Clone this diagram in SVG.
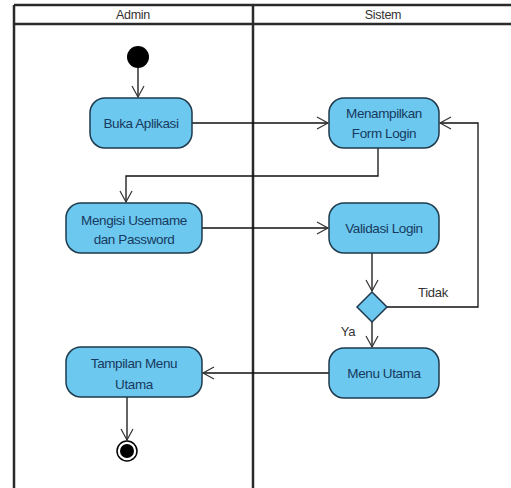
<svg xmlns="http://www.w3.org/2000/svg" width="511" height="488" viewBox="0 0 511 488">
<style>
.frame{stroke:#2a2a2a;stroke-width:2.5;fill:none}
.hdr{font-family:"Liberation Sans",Arial,sans-serif;font-size:12.5px;fill:#333;text-anchor:middle;letter-spacing:-0.3px}
.act{fill:#6cc8ef;stroke:#1e3a4c;stroke-width:1.5}
.lbl{font-family:"Liberation Sans",Arial,sans-serif;font-size:13.5px;fill:#173a5e;text-anchor:middle;letter-spacing:-0.4px}
.edge{stroke:#111;stroke-width:1.3;fill:none}
.guard{font-family:"Liberation Sans",Arial,sans-serif;font-size:13px;fill:#333;text-anchor:middle;letter-spacing:-0.3px}
</style>
<defs>
<marker id="arr" markerWidth="14" markerHeight="14" refX="12" refY="7" orient="auto" markerUnits="userSpaceOnUse">
<path d="M1,1 L12,7 L1,13" fill="none" stroke="#333" stroke-width="1.2"/>
</marker>
</defs>
<rect width="511" height="488" fill="#fff"/>
<g id="swimlanes">
<line class="frame" x1="14" y1="5" x2="511" y2="5"/>
<line class="frame" x1="14" y1="24" x2="511" y2="24"/>
<line class="frame" x1="14" y1="5" x2="14" y2="488"/>
<line class="frame" x1="253" y1="5" x2="253" y2="488"/>
<text class="hdr" x="133" y="19">Admin</text>
<text class="hdr" x="383" y="19">Sistem</text>
</g>
<g id="connectors">
<line class="edge" x1="138" y1="68" x2="138" y2="97" marker-end="url(#arr)"/>
<line class="edge" x1="192" y1="123" x2="328" y2="123" marker-end="url(#arr)"/>
<polyline class="edge" points="378,148 378,176 126,176 126,202" marker-end="url(#arr)"/>
<line class="edge" x1="202" y1="228" x2="328" y2="228" marker-end="url(#arr)"/>
<line class="edge" x1="372" y1="253" x2="372" y2="291" marker-end="url(#arr)"/>
<polyline class="edge" points="387,307 478,307 478,123 440,123" marker-end="url(#arr)"/>
<line class="edge" x1="372" y1="322" x2="372" y2="347" marker-end="url(#arr)"/>
<line class="edge" x1="329" y1="373" x2="203" y2="373" marker-end="url(#arr)"/>
<line class="edge" x1="127" y1="397" x2="127" y2="440" marker-end="url(#arr)"/>
<text class="guard" x="433" y="297">Tidak</text>
<text class="guard" x="348" y="336">Ya</text>
</g>
<g id="start"><circle cx="138" cy="57" r="11" fill="#000"/></g>
<g id="buka"><rect class="act" x="90" y="98" width="102" height="50" rx="15"/><text class="lbl" x="141" y="128">Buka Aplikasi</text></g>
<g id="menampilkan"><rect class="act" x="329" y="98" width="110" height="50" rx="15"/><text class="lbl" x="384" y="118">Menampilkan</text><text class="lbl" x="384" y="138">Form Login</text></g>
<g id="mengisi"><rect class="act" x="66" y="203" width="136" height="50" rx="15"/><text class="lbl" x="134" y="225">Mengisi Usemame</text><text class="lbl" x="134" y="244">dan Password</text></g>
<g id="validasi"><rect class="act" x="329" y="203" width="110" height="50" rx="15"/><text class="lbl" x="384" y="233">Validasi Login</text></g>
<g id="decision"><polygon class="act" points="372,292 387,307 372,322 357,307"/></g>
<g id="menu"><rect class="act" x="329" y="348" width="110" height="50" rx="15"/><text class="lbl" x="384" y="378">Menu Utama</text></g>
<g id="tampilan"><rect class="act" x="66" y="347" width="136" height="50" rx="15"/><text class="lbl" x="134" y="368">Tampilan Menu</text><text class="lbl" x="134" y="389">Utama</text></g>
<g id="end"><circle cx="127" cy="451" r="10" fill="#fff" stroke="#000" stroke-width="1.5"/><circle cx="127" cy="451" r="7" fill="#000"/></g>
</svg>
